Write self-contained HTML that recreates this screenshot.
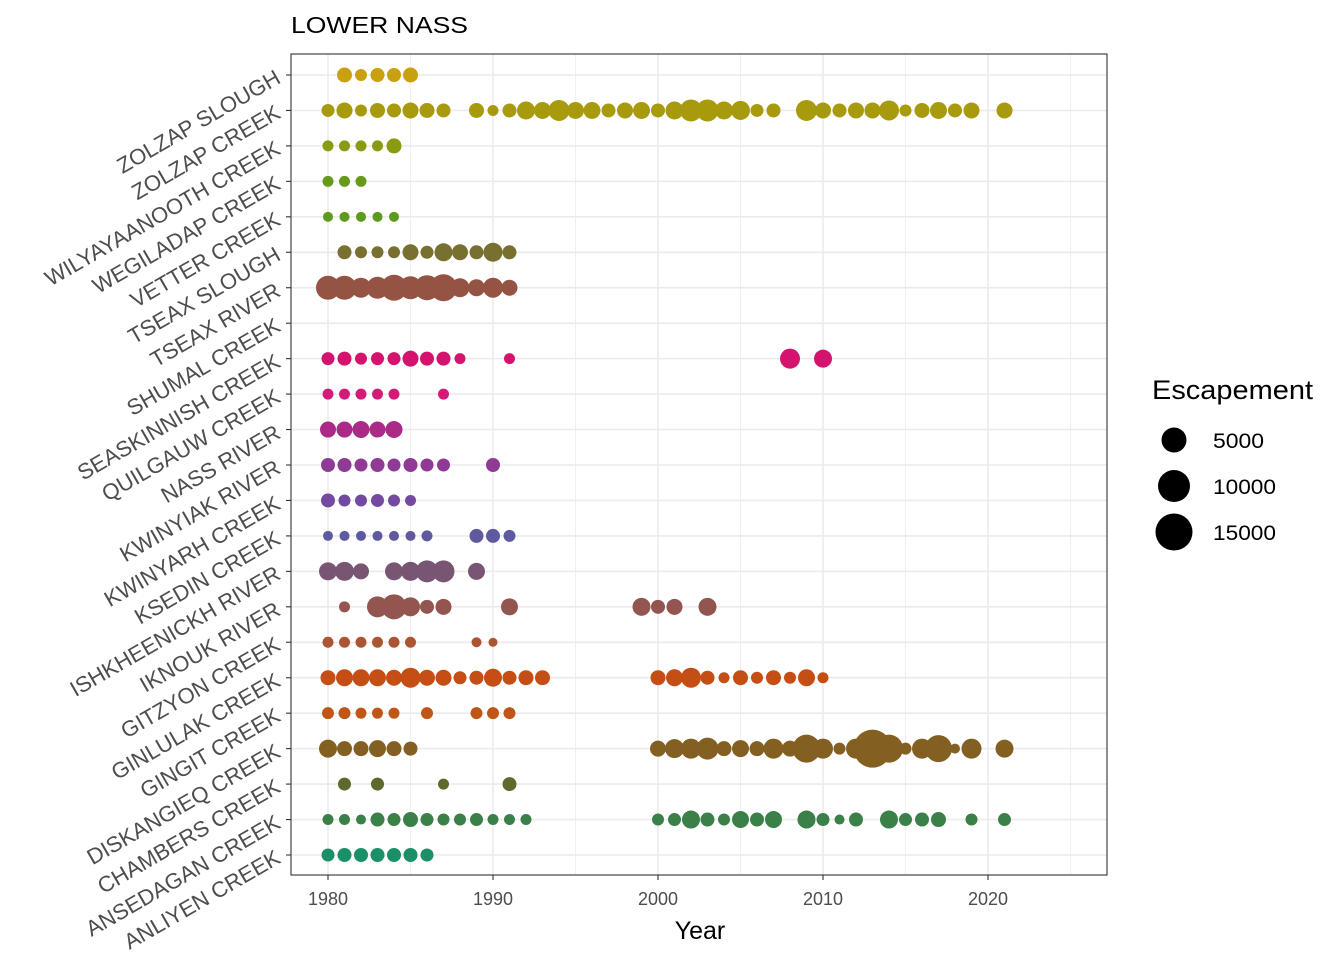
<!DOCTYPE html>
<html><head><meta charset="utf-8"><style>
html,body{margin:0;padding:0;background:#fff;}
svg{display:block;font-family:"Liberation Sans",Arial,sans-serif;}
</style></head><body>
<svg id="s" width="1344" height="960" viewBox="0 0 1344 960" xmlns="http://www.w3.org/2000/svg">
<rect width="1344" height="960" fill="#fff"/>
<g id="grid"></g>
<g id="dots"></g>
<rect x="291" y="54" width="816" height="821" fill="none" stroke="#333" stroke-width="1.1"/>
<text x="291" y="33" font-size="23" fill="#000" textLength="177" lengthAdjust="spacingAndGlyphs">LOWER NASS</text>
<g font-size="18" fill="#4d4d4d" text-anchor="middle">
<text x="328" y="905">1980</text><text x="493" y="905">1990</text><text x="658" y="905">2000</text><text x="823" y="905">2010</text><text x="988" y="905">2020</text>
</g>
<text x="700" y="939" font-size="25" text-anchor="middle" fill="#000">Year</text>
<g font-size="22" fill="#4d4d4d" text-anchor="end">
<text transform="translate(282,82) rotate(-30)">ZOLZAP SLOUGH</text>
<text transform="translate(282,117) rotate(-30)">ZOLZAP CREEK</text>
<text transform="translate(282,153) rotate(-30)">WILYAYAANOOTH CREEK</text>
<text transform="translate(282,188) rotate(-30)">WEGILADAP CREEK</text>
<text transform="translate(282,224) rotate(-30)">VETTER CREEK</text>
<text transform="translate(282,259) rotate(-30)">TSEAX SLOUGH</text>
<text transform="translate(282,295) rotate(-30)">TSEAX RIVER</text>
<text transform="translate(282,330) rotate(-30)">SHUMAL CREEK</text>
<text transform="translate(282,366) rotate(-30)">SEASKINNISH CREEK</text>
<text transform="translate(282,401) rotate(-30)">QUILGAUW CREEK</text>
<text transform="translate(282,437) rotate(-30)">NASS RIVER</text>
<text transform="translate(282,472) rotate(-30)">KWINYIAK RIVER</text>
<text transform="translate(282,508) rotate(-30)">KWINYARH CREEK</text>
<text transform="translate(282,543) rotate(-30)">KSEDIN CREEK</text>
<text transform="translate(282,578) rotate(-30)">ISHKHEENICKH RIVER</text>
<text transform="translate(282,614) rotate(-30)">IKNOUK RIVER</text>
<text transform="translate(282,649) rotate(-30)">GITZYON CREEK</text>
<text transform="translate(282,685) rotate(-30)">GINLULAK CREEK</text>
<text transform="translate(282,720) rotate(-30)">GINGIT CREEK</text>
<text transform="translate(282,756) rotate(-30)">DISKANGIEQ CREEK</text>
<text transform="translate(282,791) rotate(-30)">CHAMBERS CREEK</text>
<text transform="translate(282,827) rotate(-30)">ANSEDAGAN CREEK</text>
<text transform="translate(282,862) rotate(-30)">ANLIYEN CREEK</text>
</g>
<text x="1152" y="399" font-size="27" fill="#000" textLength="161" lengthAdjust="spacingAndGlyphs">Escapement</text>
<circle cx="1174" cy="440" r="12.5" fill="#000"/>
<circle cx="1174" cy="486" r="16" fill="#000"/>
<circle cx="1174" cy="532" r="18.5" fill="#000"/>
<g font-size="21" fill="#000">
<text x="1213" y="448" textLength="51" lengthAdjust="spacingAndGlyphs">5000</text><text x="1213" y="494" textLength="63" lengthAdjust="spacingAndGlyphs">10000</text><text x="1213" y="540" textLength="63" lengthAdjust="spacingAndGlyphs">15000</text>
</g>
</svg>
<script>
(function(){
var NS="http://www.w3.org/2000/svg";
function X(y){return 328+(y-1980)*16.5;}
function Y(i){return 75+i*35.4545;}
var g=document.getElementById("grid"),d=document.getElementById("dots");
function line(x1,y1,x2,y2,w,c){var l=document.createElementNS(NS,"line");l.setAttribute("x1",x1);l.setAttribute("y1",y1);l.setAttribute("x2",x2);l.setAttribute("y2",y2);l.setAttribute("stroke",c);l.setAttribute("stroke-width",w);g.appendChild(l);}
for(var yr=1985;yr<=2025;yr+=10)line(X(yr),54,X(yr),875,0.8,"#ebebeb");
for(var yr=1980;yr<=2020;yr+=10)line(X(yr),54,X(yr),875,1.6,"#ebebeb");
for(var i=0;i<23;i++)line(291,Y(i),1107,Y(i),1.6,"#ebebeb");
for(var yr=1980;yr<=2020;yr+=10)line(X(yr),875,X(yr),880,1.1,"#333");
for(var i=0;i<23;i++)line(286,Y(i),291,Y(i),1.1,"#333");
var rows=[
["#c9a10f",[[1981,7.5],[1982,6],[1983,7],[1984,7],[1985,7.5]]],
["#a89a0d",[[1980,6.5],[1981,8],[1982,6],[1983,7.5],[1984,7],[1985,8],[1986,7.5],[1987,7],[1989,7.5],[1990,5.5],[1991,7],[1992,9],[1993,8.5],[1994,10.5],[1995,8.5],[1996,8.5],[1997,7],[1998,8],[1999,8.5],[2000,7],[2001,9],[2002,11],[2003,11],[2004,9],[2005,9.5],[2006,6.5],[2007,7],[2009,10.5],[2010,8],[2011,7],[2012,8],[2013,8],[2014,10],[2015,6],[2016,7.5],[2017,8.5],[2018,7],[2019,8],[2021,8]]],
["#8a9a12",[[1980,5.5],[1981,5.5],[1982,5.5],[1983,5.5],[1984,7.5]]],
["#679a1a",[[1980,5.5],[1981,5.5],[1982,5.5]]],
["#5e9a1e",[[1980,5],[1981,5],[1982,5],[1983,5],[1984,5]]],
["#787030",[[1981,7],[1982,6],[1983,6],[1984,6],[1985,8],[1986,6.5],[1987,9],[1988,8],[1989,7],[1990,9.5],[1991,7]]],
["#955443",[[1980,12],[1981,12],[1982,10],[1983,11],[1984,13],[1985,11.5],[1986,12.5],[1987,13.5],[1988,9.5],[1989,8.5],[1990,10],[1991,8]]],
["#000",[]],
["#d4136e",[[1980,6.5],[1981,7],[1982,6],[1983,6.5],[1984,6.5],[1985,8],[1986,7],[1987,7],[1988,5.5],[1991,5.5],[2008,10],[2010,9]]],
["#d41a78",[[1980,5.5],[1981,5.5],[1982,5.5],[1983,5.5],[1984,5.5],[1987,5.5]]],
["#ab2a88",[[1980,8],[1981,8],[1982,8.5],[1983,8],[1984,8.5]]],
["#8f3a95",[[1980,7],[1981,7],[1982,6.5],[1983,7],[1984,6.5],[1985,7],[1986,6.5],[1987,6.5],[1990,7]]],
["#7449a0",[[1980,7],[1981,6],[1982,6],[1983,6.5],[1984,6],[1985,5.5]]],
["#5f5aa0",[[1980,5],[1981,5],[1982,5],[1983,5],[1984,5],[1985,5],[1986,5.5],[1989,7],[1990,7],[1991,6]]],
["#785673",[[1980,9],[1981,9.5],[1982,8],[1984,9],[1985,9.5],[1986,11],[1987,11],[1989,8.5]]],
["#935550",[[1981,5.5],[1983,10.5],[1984,12.5],[1985,9.5],[1986,7],[1987,8],[1991,8.5],[1999,9],[2000,7],[2001,8],[2003,9]]],
["#ac5533",[[1980,5.5],[1981,5.5],[1982,5.5],[1983,5.5],[1984,5.5],[1985,5.5],[1989,5],[1990,4.5]]],
["#c44e14",[[1980,7.5],[1981,8.5],[1982,8.5],[1983,8.5],[1984,8],[1985,10],[1986,8],[1987,8],[1988,6.5],[1989,7],[1990,9],[1991,7],[1992,7.5],[1993,7.5],[2000,7.5],[2001,8.5],[2002,10],[2003,7],[2004,5.5],[2005,7.5],[2006,6],[2007,7.5],[2008,6],[2009,8.5],[2010,5.5]]],
["#bf5617",[[1980,6],[1981,6],[1982,5.5],[1983,5.5],[1984,5.5],[1986,6],[1989,6],[1990,6],[1991,6]]],
["#835f22",[[1980,9],[1981,7.5],[1982,7.5],[1983,8.5],[1984,7.5],[1985,7],[2000,8],[2001,9.5],[2002,10],[2003,11],[2004,7.5],[2005,8.5],[2006,7.5],[2007,10],[2008,8],[2009,14],[2010,10],[2011,6],[2012,10],[2013,19],[2014,14],[2015,6],[2016,10],[2017,13.5],[2018,5],[2019,10],[2021,9]]],
["#5d6a2d",[[1981,6.5],[1983,6.5],[1987,5.5],[1991,7]]],
["#3a8048",[[1980,5.5],[1981,5.5],[1982,5],[1983,7],[1984,6.5],[1985,7.5],[1986,6.5],[1987,6],[1988,6],[1989,6.5],[1990,5.5],[1991,5.5],[1992,5.5],[2000,6],[2001,6.5],[2002,9],[2003,7],[2004,6],[2005,8.5],[2006,7],[2007,8.5],[2009,9],[2010,6.5],[2011,5],[2012,7],[2014,9],[2015,6.5],[2016,7],[2017,7.5],[2019,6],[2021,6.5]]],
["#1b9068",[[1980,6.5],[1981,7],[1982,7],[1983,7],[1984,7],[1985,7],[1986,6.5]]]
];
rows.forEach(function(r,i){r[1].forEach(function(p){var c=document.createElementNS(NS,"circle");c.setAttribute("cx",X(p[0]));c.setAttribute("cy",Y(i));c.setAttribute("r",p[1]);c.setAttribute("fill",r[0]);d.appendChild(c);});});
})();
</script>
</body></html>
